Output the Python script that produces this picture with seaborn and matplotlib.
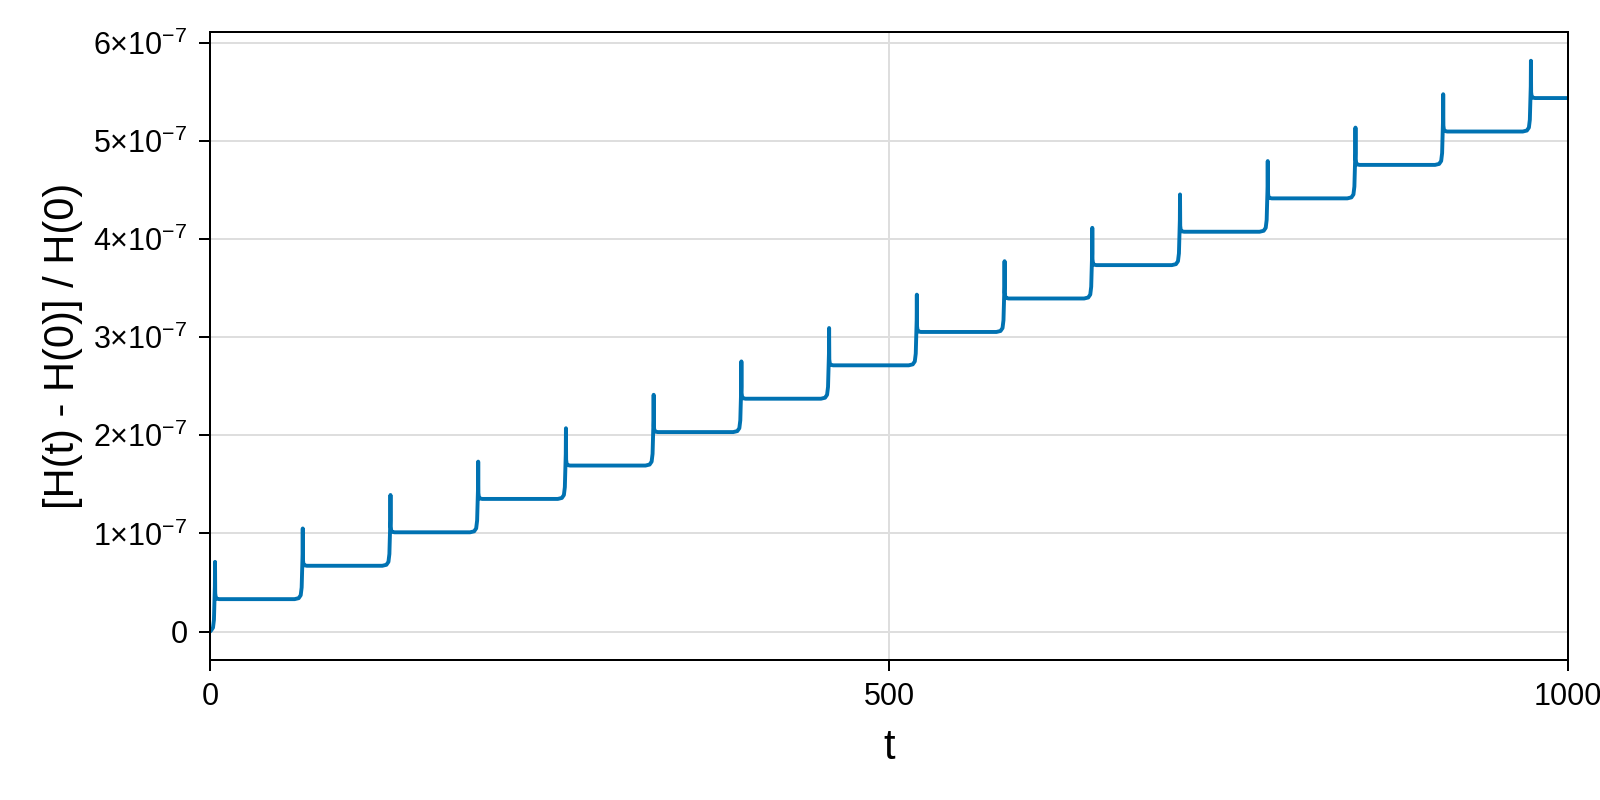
import numpy as np
import pandas as pd
import matplotlib
matplotlib.use("Agg")
import matplotlib.pyplot as plt
import seaborn as sns
from matplotlib.ticker import FixedLocator, FuncFormatter

# ---- data ----
spike_t = [3.7, 68.3, 132.9, 197.5, 262.1, 326.7, 391.3, 455.9,
           520.5, 585.1, 649.7, 714.3, 778.9, 843.5, 908.1, 972.7]
plateau = [0.331, 0.671, 1.012, 1.352, 1.692, 2.033, 2.373, 2.713,
           3.053, 3.394, 3.734, 4.074, 4.414, 4.755, 5.095, 5.436]   # x1e-7
peak = [0.711, 1.051, 1.392, 1.732, 2.072, 2.413, 2.753, 3.093,
        3.433, 3.774, 4.114, 4.454, 4.794, 5.135, 5.475, 5.816]      # x1e-7
t_end = 1000.0

# shape of one pericentre passage (offset in t, rise relative to previous level)
pre_dt = [-6.0, -3.0, -1.5, -0.8, -0.35, -0.12]
pre_dv = [0.0, 0.01, 0.04, 0.12, 0.35, 0.46]
post_dt = [0.15, 0.5, 1.2, 3.0]
post_dv = [0.06, 0.02, 0.005, 0.0]

ts = [0.0]
hs = [0.0]
prev = 0.0
for tk, pk, new in zip(spike_t, peak, plateau):
    for dt, dv in zip(pre_dt, pre_dv):
        if tk + dt > ts[-1]:
            ts.append(tk + dt); hs.append(prev + dv)
    ts.append(tk); hs.append(pk)
    for dt, dv in zip(post_dt, post_dv):
        ts.append(tk + dt); hs.append(new + dv)
    prev = new
ts.append(t_end); hs.append(prev)

df = pd.DataFrame({"t": ts, "H": np.array(hs) * 1e-7})

# ---- style ----
sns.set_theme(style="white")
plt.rcParams["font.family"] = ["Liberation Sans", "DejaVu Sans"]
plt.rcParams["mathtext.fontset"] = "custom"
plt.rcParams["mathtext.rm"] = "Liberation Sans"
plt.rcParams["mathtext.it"] = "Liberation Sans:italic"
plt.rcParams["mathtext.bf"] = "Liberation Sans:bold"

fig = plt.figure(figsize=(16, 8), dpi=100)
ax = fig.add_axes([0.13125, 0.175, 0.98 - 0.13125, 0.9605 - 0.175])

sns.lineplot(data=df, x="t", y="H", ax=ax, sort=False, estimator=None,
             color="#0072B2", linewidth=2.8)

ax.set_xlim(0, 1000)
ax.set_ylim(-0.289e-7, 6.113e-7)

ax.xaxis.set_major_locator(FixedLocator([0, 500, 1000]))
ax.yaxis.set_major_locator(FixedLocator([i * 1e-7 for i in range(7)]))

def yfmt(v, pos):
    n = int(round(v / 1e-7))
    if n == 0:
        return "0"
    return r"$%d{\times}10^{-7}$" % n

ax.yaxis.set_major_formatter(FuncFormatter(yfmt))
ax.xaxis.set_major_formatter(FuncFormatter(lambda v, p: "%d" % v))

ax.grid(True, color="#dedede", linewidth=1.44)
ax.set_axisbelow(True)
for s in ax.spines.values():
    s.set_visible(True)
    s.set_color("black")
    s.set_linewidth(1.44)

ax.tick_params(axis="both", which="major", direction="out", length=8,
               width=1.44, color="black", labelsize=22, pad=8,
               bottom=True, left=True, labelcolor="black")

ax.set_xlabel("t", fontsize=30, color="black")
ax.set_ylabel("[H(t) - H(0)] / H(0)", fontsize=30, color="black")
ax.xaxis.set_label_coords(0.5, -0.108)
ax.yaxis.set_label_coords(-0.0935, 0.5)

fig.savefig("out.png", dpi=100)
